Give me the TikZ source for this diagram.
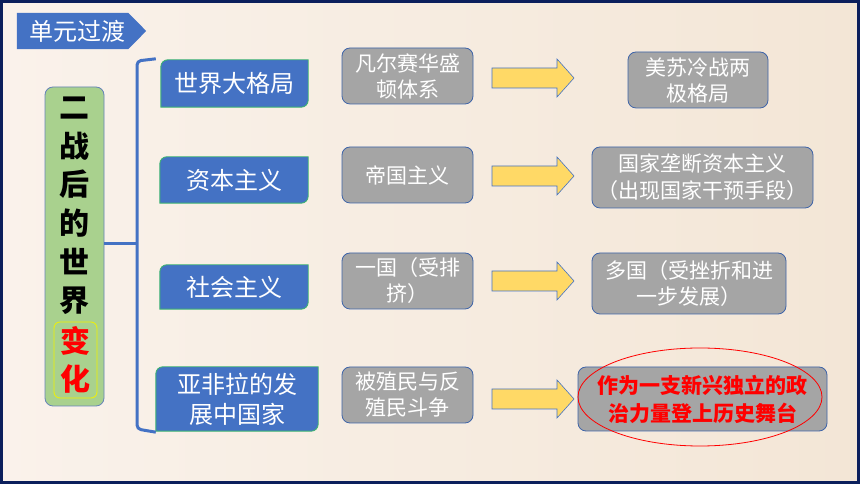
\documentclass[tikz,border=0pt]{standalone}
\usepackage{fontspec}
\newfontfamily\cjk{Noto Sans CJK SC}
\usetikzlibrary{calc,backgrounds,shapes.geometric}
\definecolor{bgL}{HTML}{FAF2EB}
\definecolor{bgR}{HTML}{F3E6D6}
\definecolor{navy}{HTML}{0B1F5C}
\definecolor{pblue}{HTML}{4472C4}
\definecolor{pgreenline}{HTML}{3CB371}
\definecolor{pgreen}{HTML}{A9D18E}
\definecolor{pgray}{HTML}{A5A5A5}
\definecolor{grayline}{HTML}{3E64A8}
\definecolor{pyellow}{HTML}{FFD966}
\definecolor{redtxt}{HTML}{FF0000}
\definecolor{ybox}{HTML}{F2F200}
\tikzset{
  bluebox/.style={inner sep=0pt, text=white, align=center,
    font=\cjk\fontsize{24}{30}\selectfont},
  blueshape/.style={fill=pblue, draw=pgreenline, line width=0.9pt},
  graybox/.style={draw=grayline, fill=pgray, line width=0.8pt, rounded corners=8pt,
    inner sep=0pt, text=white, align=center, font=\cjk\fontsize{21}{26}\selectfont},
  yarrowstyle/.style={fill=pyellow, draw=pblue, line width=0.6pt, line join=miter},
  bracestyle/.style={draw=pblue, line width=3pt, rounded corners=4pt},
}
\newcommand\diagshape[1]{\filldraw[blueshape] (#1.south west) -- ([yshift=-7pt]#1.north west) arc[start angle=180,end angle=90,radius=7pt] -- (#1.north east) -- ([yshift=7pt]#1.south east) arc[start angle=0,end angle=-90,radius=7pt] -- cycle;}
\newcommand\yarrow[1]{\filldraw[yarrowstyle] ($(#1)+(0,-10)$) -- ++(65,0) -- ++(0,-9) -- ($(#1)+(82,0)$) -- ($(#1)+(65,19)$) -- ++(0,-9) -- ($(#1)+(0,10)$) -- cycle;}
\begin{document}
\begin{tikzpicture}[x=1pt,y=1pt]
\useasboundingbox (0,0) rectangle (860,484);
\begin{scope}[on background layer]
  \shade[left color=bgL, right color=bgR] (0,0) rectangle (860,484);
\end{scope}
\draw[navy, line width=3pt] (1.5,1.5) rectangle (858.5,482.5);

% header
\node[inner sep=0pt, minimum width=111pt, minimum height=36pt, text=white,
  font=\cjk\fontsize{24}{28}\selectfont] (hdr) at (72.5,453) {\hspace*{11pt}单元过渡};
\begin{scope}[on background layer]
  \fill[pblue] (hdr.north west) -- (hdr.north east) -- ($(hdr.east)+(18,0)$) -- (hdr.south east) -- (hdr.south west) -- cycle;
\end{scope}

% green box
\node[draw=grayline!80, fill=pgreen, line width=0.8pt, rounded corners=8pt,
  minimum width=59pt, minimum height=319pt, inner sep=0pt] (G) at (74.5,237.5) {};
\node[inner sep=0pt, align=center, font=\cjk\bfseries\fontsize{30}{38.6}\selectfont]
  (Gt) at (74.5,278) {二\\战\\后\\的\\世\\界};
\node[draw=ybox, line width=0.8pt, rounded corners=6pt, minimum width=43pt, minimum height=76pt,
  inner sep=0pt, align=center, text=redtxt, font=\cjk\bfseries\fontsize{30}{38.6}\selectfont]
  (Gc) at (75.5,124) {变\\化};

% blue boxes
\node[bluebox, minimum width=147pt, minimum height=47pt] (B1) at (234.5,400.5) {世界大格局};
\node[bluebox, minimum width=148pt, minimum height=46pt] (B2) at (234,304) {资本主义};
\node[bluebox, minimum width=148pt, minimum height=44pt] (B3) at (234,197) {社会主义};
\node[bluebox, minimum width=162pt, minimum height=64pt] (B4) at (237,85) {亚非拉的发\\展中国家};
\begin{scope}[on background layer]
  \diagshape{B1}\diagshape{B2}\diagshape{B3}\diagshape{B4}
\end{scope}

% brace
\coordinate (spT) at (137,423);
\coordinate (spB) at (137,55);
\draw[bracestyle] ([xshift=-5pt,yshift=1pt]B1.north west) -- (spT) -- (spB) -- ([xshift=0pt,yshift=-1pt]B4.south west);
\draw[draw=pblue, line width=3pt] (G.east |- 0,240) -- (spT |- 0,240);

% left gray boxes
\node[graybox, minimum width=131pt, minimum height=56pt] (L1) at (407.5,408) {凡尔赛华盛\\顿体系};
\node[graybox, minimum width=131pt, minimum height=56pt] (L2) at (407.5,309) {帝国主义};
\node[graybox, minimum width=131pt, minimum height=56pt] (L3) at (407.5,203) {一国（受排\\挤）};
\node[graybox, minimum width=131pt, minimum height=56pt] (L4) at (407.5,89) {被殖民与反\\殖民斗争};

% right gray boxes
\node[graybox, minimum width=140pt, minimum height=56pt] (R1) at (698,404) {美苏冷战两\\极格局};
\node[graybox, minimum width=221pt, minimum height=61pt, font=\cjk\fontsize{21}{27}\selectfont] (R2) at (702.5,306.5) {国家垄断资本主义\\（出现国家干预手段）};
\node[graybox, minimum width=194pt, minimum height=61pt] (R3) at (689,200.5) {多国（受挫折和进\\一步发展）};
\node[graybox, minimum width=249pt, minimum height=64pt, text=redtxt,
  font=\cjk\bfseries\fontsize{21}{28}\selectfont] (R4) at (702.5,85) {作为一支新兴独立的政\\治力量登上历史舞台};
\node[draw=redtxt, line width=0.8pt, ellipse, minimum width=244pt, minimum height=98pt, inner sep=0pt] (E) at (700,87) {};

% arrows
\coordinate (a1) at (492,406);
\coordinate (a2) at (492,308);
\coordinate (a3) at (492,203);
\coordinate (a4) at (492,85);
\yarrow{a1}\yarrow{a2}\yarrow{a3}\yarrow{a4}
\end{tikzpicture}
\end{document}
